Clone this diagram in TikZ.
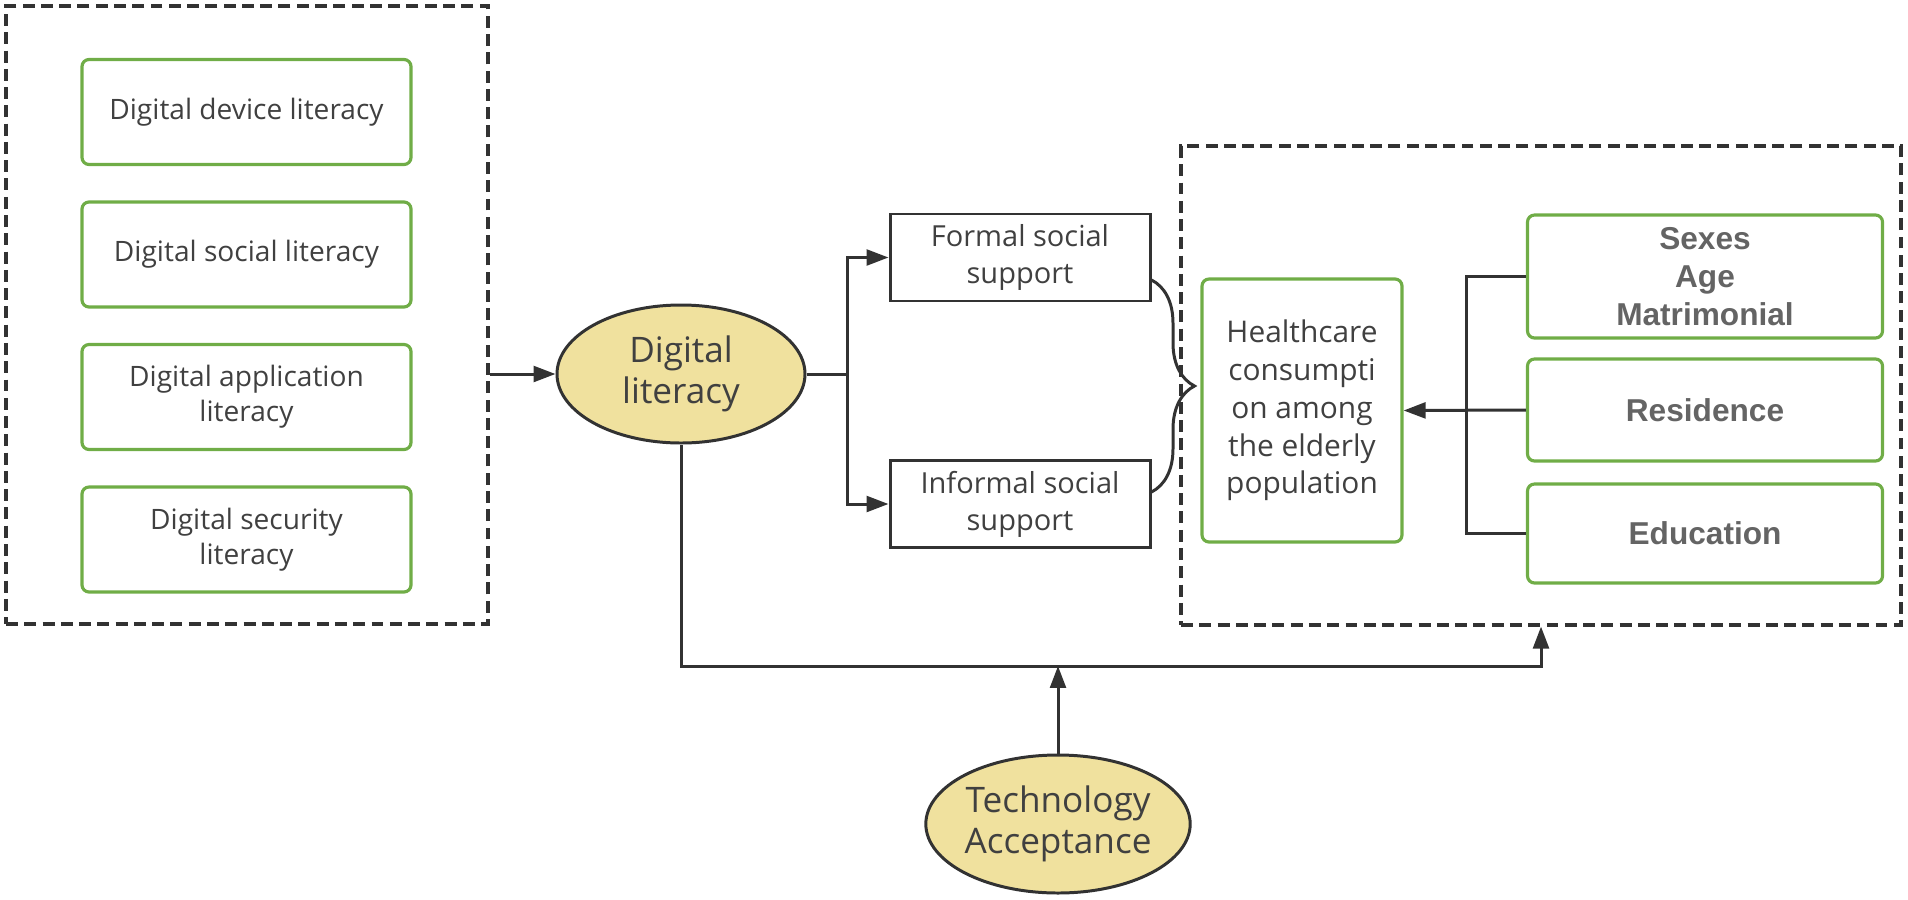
\documentclass[tikz,border=0pt]{standalone}
\usepackage{fontspec}
\setmainfont{Open Sans}
\newfontfamily\labelfont{Liberation Sans}
\usepackage{xcolor}
\definecolor{frgreen}{RGB}{112,173,71}
\definecolor{frkhaki}{RGB}{240,225,158}
\definecolor{frink}{RGB}{64,64,64}
\definecolor{frline}{RGB}{50,50,50}
\definecolor{frgray}{RGB}{100,100,100}
\usetikzlibrary{arrows.meta,positioning,shapes.geometric,calc,decorations.pathreplacing}

\begin{document}
\begin{tikzpicture}[
  grpbox/.style={draw=frline,dash pattern=on 6.8pt off 3.6pt,line width=1.8pt},
  item/.style={draw=frgreen,line width=1.8pt,rounded corners=4pt,text=frink,
    font=\fontsize{16}{20}\selectfont,align=center,minimum width=6.58cm,minimum height=2.1cm},
  ctrl/.style={item,text=frgray,font=\labelfont\bfseries\fontsize{18}{21.6}\selectfont,
    minimum width=7.1cm},
  medbox/.style={draw=frline,line width=1.7pt,text=frink,font=\fontsize{16.5}{21}\selectfont,
    align=center,minimum width=5.2cm,minimum height=1.74cm},
  latent/.style={ellipse,draw=frline,line width=1.7pt,fill=frkhaki,text=frink,
    font=\fontsize{20}{23.5}\selectfont,align=center,minimum width=4.96cm,
    minimum height=2.76cm,inner sep=0pt},
  arr/.style={-{Triangle[length=12.5pt,width=9pt]},line width=1.7pt,frline},
  link/.style={line width=1.7pt,frline}
]
  \useasboundingbox (0,0) rectangle (38.16,-17.98);

  % Dimensions of digital literacy
  \node[grpbox,minimum width=9.64cm,minimum height=12.36cm] (dims) at (4.94,-6.30) {};
  \node[item] (device) at (4.93,-2.24) {Digital device literacy};
  \node[item] (social) at (4.93,-5.09) {Digital social literacy};
  \node[item] (app) at (4.93,-7.94) {Digital application\\literacy};
  \node[item] (security) at (4.93,-10.79) {Digital security\\literacy};

  % Digital literacy
  \node[latent] (dl) at (13.62,-7.48) {Digital\\literacy};
  \draw[arr] (dims.east |- dl.west) -- (dl.west);

  % Mediators
  \node[medbox] (formal) at (20.4,-5.15) {Formal social\\support};
  \node[medbox] (informal) at (20.4,-10.08) {Informal social\\support};
  \coordinate (split) at (16.94,-7.48);
  \draw[link] (dl.east) -- (split);
  \draw[arr] (split) |- (formal.west);
  \draw[arr] (split) |- (informal.west);

  % Outcome and controls
  \node[grpbox,minimum width=14.4cm,minimum height=9.58cm] (ctrlgrp) at (30.82,-7.71) {};
  \node[item,minimum width=4cm,minimum height=5.26cm,font=\fontsize{17}{21.5}\selectfont]
    (hc) at (26.04,-8.21) {Healthcare\\consumpti\\on among\\the elderly\\population};
  \node[ctrl,minimum height=2.46cm] (demo) at (34.1,-5.53) {Sexes\\Age\\Matrimonial};
  \node[ctrl,minimum height=2.04cm] (res) at (34.1,-8.2) {Residence};
  \node[ctrl,minimum height=1.98cm] (edu) at (34.1,-10.67) {Education};
  \coordinate (join) at (29.32,-8.2);
  \draw[link] (demo.west) -- (demo.west -| join) -- (edu.west -| join) -- (edu.west);
  \draw[arr] (res.west) -- (hc.east);

  % Brace into outcome
  \coordinate (bt) at ([yshift=-0.45cm]formal.east);
  \coordinate (bb) at ([yshift=0.24cm]informal.east);
  \draw[link,decorate,decoration={brace,amplitude=0.86cm}] (bt) -- (bb);

  % Moderator
  \node[latent] (tam) at (21.16,-16.48) {Technology\\Acceptance};
  \coordinate (rail) at (0,-13.32);
  \draw[arr] (dl.south) -- (dl.south |- rail) -| (ctrlgrp.south);
  \draw[arr] (tam.north) -- (tam.north |- rail);
\end{tikzpicture}
\end{document}
